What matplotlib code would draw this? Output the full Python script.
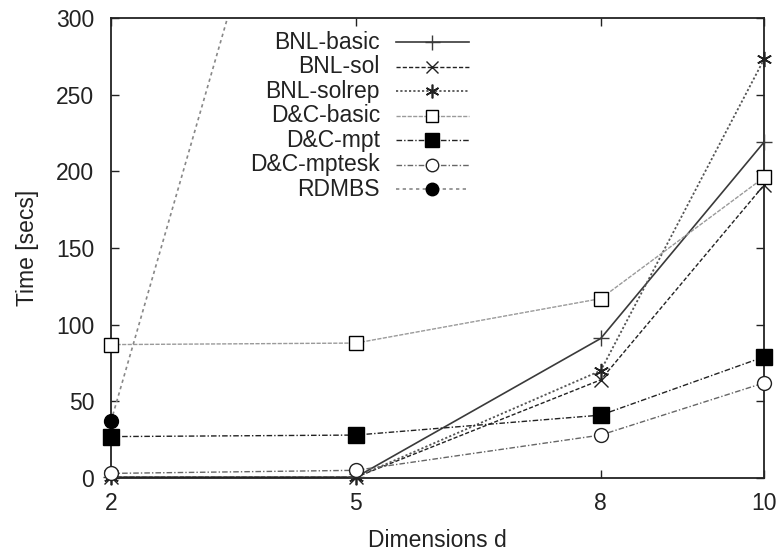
import matplotlib
matplotlib.use("Agg")
import matplotlib.pyplot as plt
import numpy as np
from matplotlib.lines import Line2D

plt.rcParams['font.family'] = ['Liberation Sans', 'DejaVu Sans']

dims = [2, 5, 8, 10]
x_ticks = [2, 5, 8, 10]
y_ticks = [0, 50, 100, 150, 200, 250, 300]

bnl_basic = [0.5, 0.5, 91, 219]
bnl_sol = [0.5, 0.5, 64, 191]
bnl_solrep = [0.5, 0.5, 70, 273]
dc_basic = [87, 88, 117, 196]
dc_mpt = [27, 28, 41, 79]
dc_mptesk = [3, 5, 28, 62]
rdmbs_dims = [2, 5]
rdmbs = [37, 590]

series = [
    ("BNL-basic", dims, bnl_basic, dict(color="#3a3a3a", ls="-", lw=1.2, marker="+", ms=12, mew=1.0, mfc="none", mec="#3a3a3a")),
    ("BNL-sol", dims, bnl_sol, dict(color="#222222", ls=(0, (3, 1.5)), lw=1.0, marker="x", ms=10, mew=1.0, mfc="none", mec="#222222")),
    ("BNL-solrep", dims, bnl_solrep, dict(color="#555555", ls=(0, (1.2, 1.2)), lw=1.3, marker=(6, 2, 0), ms=11, mew=1.2, mfc="none", mec="#222222")),
    ("D&C-basic", dims, dc_basic, dict(color="#9a9a9a", ls=(0, (3, 1)), lw=1.0, marker="s", ms=10, mew=1.0, mfc="white", mec="black")),
    ("D&C-mpt", dims, dc_mpt, dict(color="#222222", ls=(0, (4, 1.5, 1, 1.5)), lw=1.0, marker="s", ms=11, mew=1.0, mfc="black", mec="black")),
    ("D&C-mptesk", dims, dc_mptesk, dict(color="#666666", ls=(0, (4, 1.5, 1, 1.5)), lw=1.0, marker="o", ms=10, mew=1.0, mfc="white", mec="#222222")),
    ("RDMBS", rdmbs_dims, rdmbs, dict(color="#888888", ls=(0, (2, 2)), lw=1.2, marker="o", ms=10, mew=1.0, mfc="black", mec="black")),
]

YMAX = 300
FS = 16.5

fig = plt.figure(figsize=(7.79, 5.51), dpi=100)
ax = fig.add_axes([0.1425, 0.1325, 0.8382, 0.8348])

for name, xs, ys, st in series:
    line_st = {k: v for k, v in st.items() if k in ("color", "ls", "lw")}
    mark_st = {k: v for k, v in st.items() if k not in ("color", "ls", "lw")}
    # lines are clipped to the plot area
    ax.plot(xs, ys, clip_on=True, **line_st)
    # markers sitting on the frame stay whole; points above the range are hidden
    ym = np.ma.masked_greater(np.asarray(ys, dtype=float), YMAX)
    ax.plot(xs, ym, ls="none", clip_on=False, zorder=3, **mark_st)

ax.set_xlim(2, 10)
ax.set_ylim(0, YMAX)
ax.set_xticks(x_ticks)
ax.set_yticks(y_ticks)
ax.tick_params(direction="in", top=True, right=True, length=6, width=1.0,
               labelsize=FS, labelcolor="#222222", color="#222222")
ax.tick_params(axis="x", pad=10)
ax.tick_params(axis="y", pad=12)
for sp in ax.spines.values():
    sp.set_linewidth(1.3)
    sp.set_color("#222222")

ax.set_xlabel("Dimensions d", fontsize=FS, color="#222222", labelpad=10)
ax.set_ylabel("Time [secs]", fontsize=FS, color="#222222", labelpad=12)

# legend: right-aligned names with the line sample on their right
tr = ax.transAxes
x_text = (380 - 111) / 653
x_l0 = (396 - 111) / 653
x_l1 = (469 - 111) / 653
y0 = 1 - (42 - 18) / 460
dy = 24.5 / 460
for i, (name, xs, ys, st) in enumerate(series):
    yy = y0 - i * dy
    ax.text(x_text, yy, name, transform=tr, ha="right", va="center",
            fontsize=FS, color="#222222")
    ax.add_line(Line2D([x_l0, x_l1], [yy, yy], transform=tr, color=st["color"],
                       ls=st["ls"], lw=st["lw"]))
    ax.add_line(Line2D([(x_l0 + x_l1) / 2], [yy], transform=tr, ls="none",
                       marker=st["marker"], ms=st["ms"] * 0.9, mew=st["mew"],
                       mfc=st["mfc"], mec=st["mec"]))

fig.savefig("out.png", dpi=100)
